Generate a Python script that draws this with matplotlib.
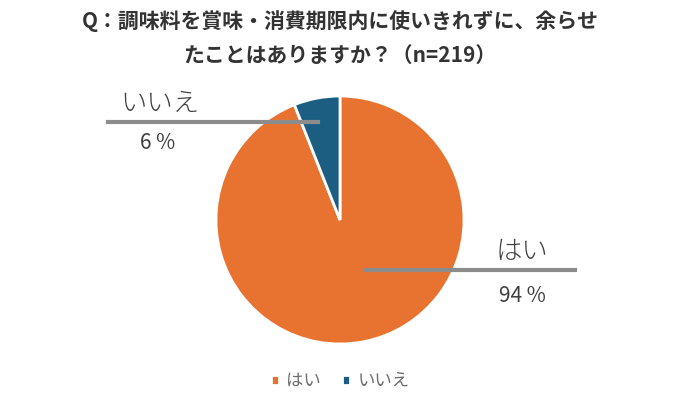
import matplotlib.pyplot as plt

plt.rcParams['font.family'] = ['Noto Sans CJK JP', 'DejaVu Sans']

labels = ['はい', 'いいえ']
values = [94, 6]
colors = ['#E87330', '#1B5E82']
title = 'Q：調味料を賞味・消費期限内に使いきれずに、余らせ\nたことはありますか？（n=219）'

fig = plt.figure(figsize=(6.8, 3.93), dpi=100)
ax = fig.add_axes([0.5 - 124 / 680, 1 - 344 / 393, 248 / 680, 248 / 393])

wedges, _ = ax.pie(values, colors=colors, startangle=90, counterclock=False,
                   wedgeprops=dict(edgecolor='white', linewidth=2))
ax.set_xlim(-1, 1)
ax.set_ylim(-1, 1)
ax.set_aspect('equal')

# label lines in figure coords (pixels / size)
def px(x, y):
    return x / 680, 1 - y / 393

x0, y0 = px(108, 122)
x1, _ = px(318, 122)
fig.add_artist(plt.Line2D([x0, x1], [y0, y0], color='#8c8c8c', lw=3))
fig.text(*px(160, 103), labels[1], fontsize=19, color='#404040', ha='center', va='center', fontweight='light')
fig.text(*px(158, 143), f'{values[1]} %', fontsize=15, color='#404040', ha='center', va='center')

x0, y0 = px(365, 270)
x1, _ = px(575, 270)
fig.add_artist(plt.Line2D([x0, x1], [y0, y0], color='#8c8c8c', lw=3))
fig.text(*px(522, 251), labels[0], fontsize=19, color='#404040', ha='center', va='center', fontweight='light')
fig.text(*px(522, 296), f'{values[0]} %', fontsize=15, color='#404040', ha='center', va='center')

fig.text(0.5, 1 - 38 / 393, title, ha='center', va='center', fontsize=15,
         fontweight='bold', color='#333333', linespacing=1.8)

leg = fig.legend(wedges, labels, loc='center', bbox_to_anchor=(0.5, 1 - 381 / 393),
                 ncol=2, frameon=False, fontsize=12.5, handlelength=0.5, handleheight=0.5,
                 columnspacing=1.2, handletextpad=0.4)
for t in leg.get_texts():
    t.set_color('#6e6e6e')

fig.savefig('out.png', dpi=100, facecolor='white')
